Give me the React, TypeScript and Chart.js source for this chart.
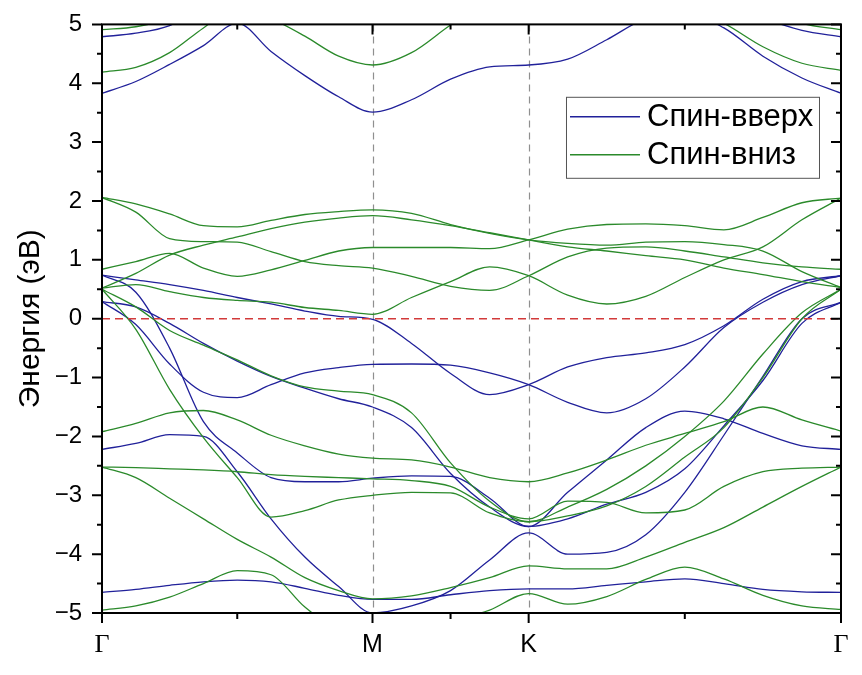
import React, { useEffect, useRef } from "react";
import { Chart, registerables } from "chart.js";

Chart.register(...registerables);

// k-path (units of 2π/a): Γ → M → K → Γ
const kPath = [0, 0.0722, 0.1443, 0.2165, 0.2887, 0.3608, 0.433, 0.5052, 0.5774, 0.6607, 0.744, 0.8274, 0.9107, 0.994, 1.0774, 1.1607, 1.244, 1.3274, 1.4107, 1.494, 1.5774];
const kHigh = [0, 0.5774, 0.9107, 1.5774];
const kHighNames = ["Γ", "M", "K", "Γ"];
const kMinor = [0.2887, 0.744, 1.244];
const fermiLevel = 0;
const yTicks = [-5, -4, -3, -2, -1, 0, 1, 2, 3, 4, 5];

// Spin-up bands (eV)
const up1 = [4.79, 4.85, 4.98, 5.3, 5.5, 5.6, 5.6, 5.6, 5.6, 5.6, 5.6, 5.6, 5.6, 5.6, 5.6, 5.6, 5.5, 5.3, 5.1, 4.9, 4.79];
const up2 = [3.83, 4.03, 4.32, 4.64, 5.02, 4.54, 4.13, 3.77, 3.51, 3.72, 4.07, 4.28, 4.31, 4.41, 4.74, 5.1, 5.2, 4.94, 4.46, 4.09, 3.83];
const up3 = [0.74, 0.66, 0.58, 0.48, 0.36, 0.25, 0.13, 0.04, -0.01, -0.42, -0.93, -1.29, -1.12, -0.82, -0.66, -0.58, -0.44, -0.12, 0.33, 0.63, 0.73];
const up4 = [0.29, -0.1, -0.77, -1.25, -1.34, -1.12, -0.92, -0.83, -0.775, -0.77, -0.79, -0.92, -1.12, -1.42, -1.6, -1.36, -0.82, -0.15, 0.28, 0.58, 0.73];
const up5 = [0.29, 0.2, -0.08, -0.42, -0.72, -0.98, -1.18, -1.36, -1.5, -1.85, -2.63, -3.2, -3.53, -3.4, -3.15, -2.95, -2.55, -1.82, -1.05, -0.08, 0.28];
const up6 = [0.74, 0.45, -0.5, -1.75, -2.28, -2.7, -2.77, -2.77, -2.71, -2.67, -2.68, -3.05, -3.53, -2.95, -2.4, -1.85, -1.57, -1.7, -1.95, -2.16, -2.22];
const up7 = [-2.22, -2.12, -1.97, -2.0, -2.6, -3.4, -4.05, -4.55, -5.0, -4.88, -4.62, -4.1, -3.64, -4.0, -3.97, -3.67, -2.95, -1.98, -0.98, 0.0, 0.28];
const up8 = [-4.65, -4.6, -4.53, -4.47, -4.44, -4.47, -4.58, -4.7, -4.77, -4.77, -4.69, -4.62, -4.59, -4.59, -4.53, -4.47, -4.42, -4.5, -4.6, -4.64, -4.65];

// Spin-down bands (eV)
const dn1 = [4.91, 4.96, 5.1, 5.4, 5.6, 5.6, 5.6, 5.6, 5.6, 5.6, 5.6, 5.6, 5.6, 5.6, 5.6, 5.6, 5.6, 5.5, 5.3, 5.02, 4.91];
const dn2 = [4.19, 4.27, 4.52, 4.94, 5.3, 5.1, 4.8, 4.46, 4.31, 4.52, 4.99, 5.4, 5.6, 5.6, 5.6, 5.5, 5.3, 5.02, 4.62, 4.34, 4.22];
const dn3 = [2.06, 1.95, 1.78, 1.58, 1.56, 1.67, 1.77, 1.82, 1.85, 1.79, 1.6, 1.45, 1.34, 1.28, 1.25, 1.3, 1.31, 1.26, 1.15, 0.8, 0.53];
const dn4 = [0.52, 0.77, 1.08, 1.25, 1.39, 1.53, 1.64, 1.71, 1.75, 1.68, 1.58, 1.46, 1.34, 1.22, 1.15, 1.07, 1.0, 0.86, 0.75, 0.63, 0.53];
const dn5 = [2.06, 1.81, 1.36, 1.31, 1.3, 1.14, 0.97, 0.9, 0.86, 0.72, 0.55, 0.48, 0.73, 1.05, 1.2, 1.22, 1.15, 1.05, 0.95, 0.88, 0.84];
const dn6 = [0.84, 0.97, 1.11, 0.86, 0.72, 0.83, 0.99, 1.15, 1.21, 1.21, 1.21, 1.19, 1.34, 1.52, 1.6, 1.61, 1.58, 1.51, 1.72, 1.97, 2.05];
const dn7 = [0.52, 0.58, 0.46, 0.36, 0.31, 0.28, 0.19, 0.14, 0.075, 0.36, 0.63, 0.88, 0.73, 0.4, 0.25, 0.38, 0.7, 1.0, 1.22, 1.68, 2.05];
const dn8 = [0.5, 0.2, -0.2, -0.45, -0.7, -0.97, -1.16, -1.23, -1.29, -1.6, -2.45, -3.1, -3.45, -3.2, -2.9, -2.5, -2.0, -1.4, -0.6, 0.1, 0.5];
const dn9 = [0.5, -0.18, -1.2, -2.02, -2.7, -3.37, -3.26, -3.08, -3.0, -2.95, -2.96, -3.3, -3.45, -3.35, -3.18, -2.85, -2.35, -1.85, -1.0, 0.0, 0.5];
const dn10 = [-1.92, -1.78, -1.6, -1.56, -1.72, -1.98, -2.16, -2.3, -2.37, -2.4, -2.52, -2.7, -2.77, -2.62, -2.4, -2.15, -1.95, -1.75, -1.5, -1.72, -1.91];
const dn11 = [-2.52, -2.53, -2.55, -2.57, -2.6, -2.65, -2.68, -2.7, -2.72, -2.75, -2.85, -3.2, -3.4, -3.1, -3.12, -3.3, -3.25, -2.85, -2.6, -2.54, -2.52];
const dn12 = [-2.52, -2.7, -3.05, -3.4, -3.75, -4.05, -4.4, -4.62, -4.76, -4.71, -4.57, -4.4, -4.2, -4.25, -4.25, -4.05, -3.8, -3.55, -3.2, -2.85, -2.52];
const dn13 = [-4.95, -4.88, -4.73, -4.5, -4.28, -4.35, -4.9, -5.3, -5.5, -5.4, -5.15, -4.95, -4.67, -4.85, -4.72, -4.43, -4.22, -4.42, -4.7, -4.88, -4.94];

const spinUp = [up1, up2, up3, up4, up5, up6, up7, up8];
const spinDown = [dn1, dn2, dn3, dn4, dn5, dn6, dn7, dn8, dn9, dn10, dn11, dn12, dn13];
const legendLabels = ["Спин-вверх", "Спин-вниз"];
const upColor = "#21219a";
const downColor = "#2b8a2b";

const SANS = "'Liberation Sans', Arial, sans-serif";
const SERIF = "'Liberation Serif', 'Times New Roman', serif";

const decor = {
  id: "decor",
  beforeDatasetsDraw(chart: any) {
    const { ctx, chartArea: a, scales } = chart;
    ctx.save();
    ctx.strokeStyle = "#8f8f8f";
    ctx.lineWidth = 1.2;
    ctx.setLineDash([7, 5]);
    [kHigh[1], kHigh[2]].forEach((k) => {
      const px = Math.round(scales.x.getPixelForValue(k)) + 0.5;
      ctx.beginPath();
      ctx.moveTo(px, a.top);
      ctx.lineTo(px, a.bottom);
      ctx.stroke();
    });
    ctx.restore();
  },
  afterDatasetsDraw(chart: any) {
    const { ctx, chartArea: a, scales } = chart;
    ctx.save();
    ctx.strokeStyle = "#d23a3a";
    ctx.lineWidth = 1.5;
    ctx.setLineDash([8, 5]);
    const py = scales.y.getPixelForValue(fermiLevel);
    ctx.beginPath();
    ctx.moveTo(a.left, py);
    ctx.lineTo(a.right, py);
    ctx.stroke();
    ctx.restore();
  },
  afterDraw(chart: any) {
    const { ctx, chartArea: a, scales } = chart;
    const xs = scales.x;
    const ys = scales.y;
    ctx.save();
    ctx.strokeStyle = "#000";
    ctx.lineWidth = 2;
    ctx.setLineDash([]);
    ctx.strokeRect(a.left, a.top, a.right - a.left, a.bottom - a.top);
    for (let v = -5; v <= 5.001; v += 0.5) {
      const py = ys.getPixelForValue(v);
      const major = Math.abs(v - Math.round(v)) < 1e-6;
      const len = major ? 10 : 5;
      ctx.beginPath();
      ctx.moveTo(a.left - len, py);
      ctx.lineTo(a.left, py);
      ctx.moveTo(a.right - len, py);
      ctx.lineTo(a.right, py);
      ctx.stroke();
    }
    kHigh.forEach((k) => {
      const px = xs.getPixelForValue(k);
      ctx.beginPath();
      ctx.moveTo(px, a.bottom);
      ctx.lineTo(px, a.bottom + 10);
      ctx.moveTo(px, a.top);
      ctx.lineTo(px, a.top + 10);
      ctx.stroke();
    });
    kMinor.forEach((k) => {
      const px = xs.getPixelForValue(k);
      ctx.beginPath();
      ctx.moveTo(px, a.bottom);
      ctx.lineTo(px, a.bottom + 6);
      ctx.moveTo(px, a.top);
      ctx.lineTo(px, a.top + 5);
      ctx.stroke();
    });
    ctx.fillStyle = "#000";
    ctx.textAlign = "center";
    ctx.textBaseline = "middle";
    kHigh.forEach((k, i) => {
      const px = xs.getPixelForValue(k);
      const name = kHighNames[i];
      ctx.font = name === "Γ" ? `26px ${SERIF}` : `25px ${SANS}`;
      ctx.fillText(name, px, a.bottom + 32);
    });
    ctx.save();
    ctx.translate(31, (a.top + a.bottom) / 2);
    ctx.rotate(-Math.PI / 2);
    ctx.font = `30px ${SANS}`;
    ctx.fillText("Энергия (эВ)", 0, 0);
    ctx.restore();
    const lx = xs.getPixelForValue(0.9904), ly = ys.getPixelForValue(3.77);
    const bw = 253, bh = 81;
    ctx.fillStyle = "#fff";
    ctx.fillRect(lx, ly, bw, bh);
    ctx.strokeStyle = "#555";
    ctx.lineWidth = 1;
    ctx.strokeRect(lx + 0.5, ly + 0.5, bw, bh);
    const rows = [
      { c: upColor, t: legendLabels[0], dy: 20 },
      { c: downColor, t: legendLabels[1], dy: 58 },
    ];
    ctx.font = `31px ${SANS}`;
    ctx.textAlign = "left";
    rows.forEach((r) => {
      ctx.strokeStyle = r.c;
      ctx.lineWidth = 1.5;
      ctx.beginPath();
      ctx.moveTo(lx + 4, ly + r.dy);
      ctx.lineTo(lx + 74, ly + r.dy);
      ctx.stroke();
      ctx.fillStyle = "#000";
      ctx.fillText(r.t, lx + 81, ly + r.dy + 1);
    });
    ctx.restore();
  },
};

export default function App() {
  const ref = useRef<HTMLCanvasElement | null>(null);
  useEffect(() => {
    if (!ref.current) return;
    const mk = (bands: number[][], color: string, label: string, order: number) =>
      bands.map((b, bi) => ({
        label: bi === 0 ? label : "",
        data: b.map((e, i) => ({ x: kPath[i], y: e })),
        borderColor: color,
        backgroundColor: color,
        borderWidth: 1.3,
        pointRadius: 0,
        fill: false,
        cubicInterpolationMode: "monotone" as const,
        clip: 0,
        order,
      }));
    const chart = new Chart(ref.current, {
      type: "line",
      data: {
        datasets: [
          ...mk(spinUp, upColor, legendLabels[0], 1),
          ...mk(spinDown, downColor, legendLabels[1], 0),
        ],
      },
      options: {
        responsive: false,
        animation: false,
        events: [],
        layout: { padding: { left: 0, right: 21, top: 17, bottom: 0 } },
        plugins: { legend: { display: false }, tooltip: { enabled: false }, title: { display: false } },
        scales: {
          x: {
            type: "linear",
            min: 0,
            max: kHigh[3],
            grid: { display: false, drawTicks: false },
            border: { display: false },
            ticks: { display: false },
            afterBuildTicks: (s: any) => {
              s.ticks = kHigh.map((v) => ({ value: v }));
            },
            afterFit: (s: any) => {
              s.height = 62;
            },
          },
          y: {
            type: "linear",
            min: -5,
            max: 5,
            grid: { display: false, drawTicks: true, tickLength: 10 },
            border: { display: false },
            afterBuildTicks: (s: any) => {
              s.ticks = yTicks.map((v) => ({ value: v }));
            },
            ticks: {
              padding: 10,
              color: "#000",
              font: { family: SANS, size: 24 },
              callback: (v: any) => (Number(v) < 0 ? "\u2212" + Math.abs(Number(v)) : String(v)),
            },
            afterFit: (s: any) => {
              s.width = 102;
            },
          },
        },
      },
      plugins: [decor],
    });
    return () => chart.destroy();
  }, []);
  return (
    <div style={{ position: "absolute", left: 0, top: 0, width: 862, height: 675, background: "#fff" }}>
      <canvas ref={ref} width={862} height={675} />
    </div>
  );
}
